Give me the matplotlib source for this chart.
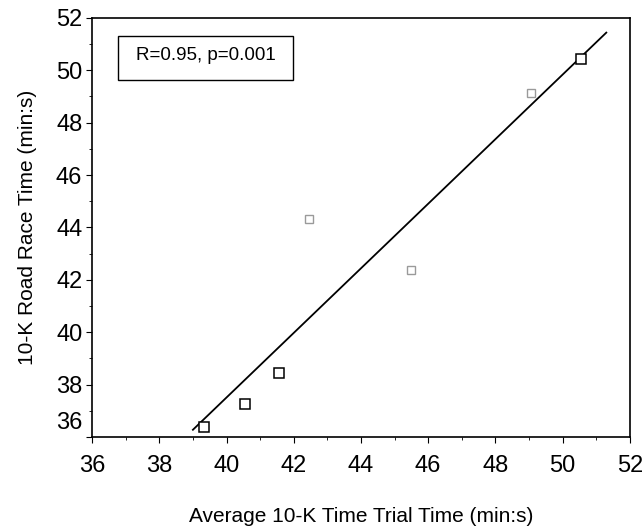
import numpy as np
import matplotlib.pyplot as plt
from matplotlib.ticker import MultipleLocator

plt.rcParams['font.family'] = ['Liberation Sans', 'DejaVu Sans']

# data
trial_time = [39.33, 40.55, 41.57, 42.46, 45.5, 49.07, 50.55]
race_time = [36.38, 37.26, 38.44, 44.32, 42.37, 49.13, 50.43]
faded = [False, False, False, True, True, True, False]
stat_text = "R=0.95, p=0.001"
ticks = [36, 38, 40, 42, 44, 46, 48, 50, 52]

fig = plt.figure(figsize=(6.44, 5.27), dpi=100)
ax = fig.add_axes([0.143, 0.171, 0.835, 0.795])

# regression line
k, b = np.polyfit(trial_time, race_time, 1)
xl = np.array([39.0, 51.3])
ax.plot(xl, k * xl + b, color='black', lw=1.3)

for x, y, f in zip(trial_time, race_time, faded):
    ax.plot(x, y, marker='s', ms=6 if f else 7, mfc='white',
            mec='#9a9a9a' if f else 'black', mew=1.0 if f else 1.1,
            ls='none')

ax.set_xlim(36, 52)
ax.set_ylim(36, 52)
ax.set_xticks(ticks)
ax.set_yticks(ticks)
ax.set_yticklabels([''] + [str(t) for t in ticks[1:]])
ax.xaxis.set_minor_locator(MultipleLocator(1))
ax.yaxis.set_minor_locator(MultipleLocator(1))
ax.tick_params(which='both', direction='out', labelsize=17)
ax.tick_params(which='major', length=4)
ax.tick_params(which='minor', length=2)
ax.tick_params(axis='x', pad=9)
ax.tick_params(axis='y', pad=3)
for s in ax.spines.values():
    s.set_linewidth(1.2)

# the lowest y label sits a bit above its tick
ax.annotate(str(ticks[0]), xy=(0, ticks[0]), xycoords=('axes fraction', 'data'),
            xytext=(-7, 10), textcoords='offset points', ha='right', va='center', fontsize=17)

ax.set_xlabel("Average 10-K Time Trial Time (min:s)", fontsize=15, labelpad=22)
ax.set_ylabel("10-K Road Race Time (min:s)", fontsize=15, labelpad=14)

ax.add_patch(plt.Rectangle((0.048, 0.852), 0.326, 0.105, transform=ax.transAxes,
                           fill=False, lw=1.0, ec='black'))
ax.text(0.211, 0.91, stat_text, transform=ax.transAxes, ha='center', va='center', fontsize=13.5)

fig.savefig('out.png', dpi=100)
